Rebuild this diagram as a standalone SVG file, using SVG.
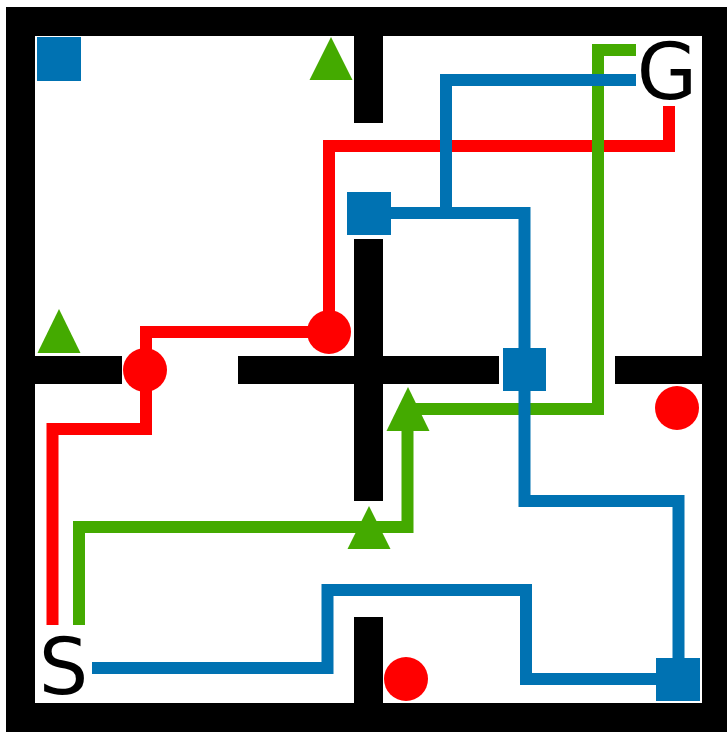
<svg xmlns="http://www.w3.org/2000/svg" width="727" height="732" viewBox="0 0 727 732">
<style>
.wall{fill:#000}
.p{fill:none;stroke-width:12;stroke-linejoin:miter;stroke-linecap:butt}
.r{stroke:#ff0000}.g{stroke:#44aa00}.b{stroke:#0072b2}
.rf{fill:#ff0000}.gf{fill:#44aa00}.bf{fill:#0072b2}
.lbl{font-family:"DejaVu Sans",sans-serif;font-size:78px;fill:#000;text-anchor:middle}
</style>
<rect width="727" height="732" fill="#fff"/>
<g id="maze">
<rect class="wall" x="6" y="7" width="721" height="725"/>
<rect x="35" y="36" width="667" height="667" fill="#fff"/>
<rect class="wall" x="354" y="36" width="29" height="87"/>
<rect class="wall" x="354" y="239" width="29" height="262"/>
<rect class="wall" x="354" y="617" width="29" height="86"/>
<rect class="wall" x="35" y="356" width="87" height="28"/>
<rect class="wall" x="238" y="356" width="261" height="28"/>
<rect class="wall" x="615" y="356" width="87" height="28"/>
</g>
<g id="connectors">
<path class="p r" d="M52.5,625 V429 H146 V332 H329 V146 H669 V106"/>
<path class="p g" d="M79,625 V527 H407.5 V409 H598 V50 H636"/>
<path class="p b" d="M92,668 H327.5 V590 H526 V679 H678"/>
<path class="p b" d="M678.5,679 V501 H524.5 V213 H369"/>
<path class="p b" d="M446,213 V80 H636"/>
</g>
<g id="start"><text class="lbl" x="63.5" y="694">S</text></g>
<g id="goal"><text class="lbl" x="667" y="99">G</text></g>
<g id="sq1"><rect class="bf" x="37" y="37" width="44" height="44"/></g>
<g id="sq2"><rect class="bf" x="347" y="192" width="44" height="43"/></g>
<g id="sq3"><rect class="bf" x="503" y="348" width="43" height="43"/></g>
<g id="sq4"><rect class="bf" x="656" y="658" width="44" height="43"/></g>
<g id="ci1"><circle class="rf" cx="145" cy="370" r="22"/></g>
<g id="ci2"><circle class="rf" cx="329" cy="332" r="22"/></g>
<g id="ci3"><circle class="rf" cx="677" cy="408" r="22"/></g>
<g id="ci4"><circle class="rf" cx="406" cy="679" r="22"/></g>
<g id="tr1"><polygon class="gf" points="331,37 352.5,80 309.5,80"/></g>
<g id="tr2"><polygon class="gf" points="59,309 80.5,353 37.5,353"/></g>
<g id="tr3"><polygon class="gf" points="408,387 429.5,431 386.5,431"/></g>
<g id="tr4"><polygon class="gf" points="369,506 390.5,549 347.5,549"/></g>
</svg>
